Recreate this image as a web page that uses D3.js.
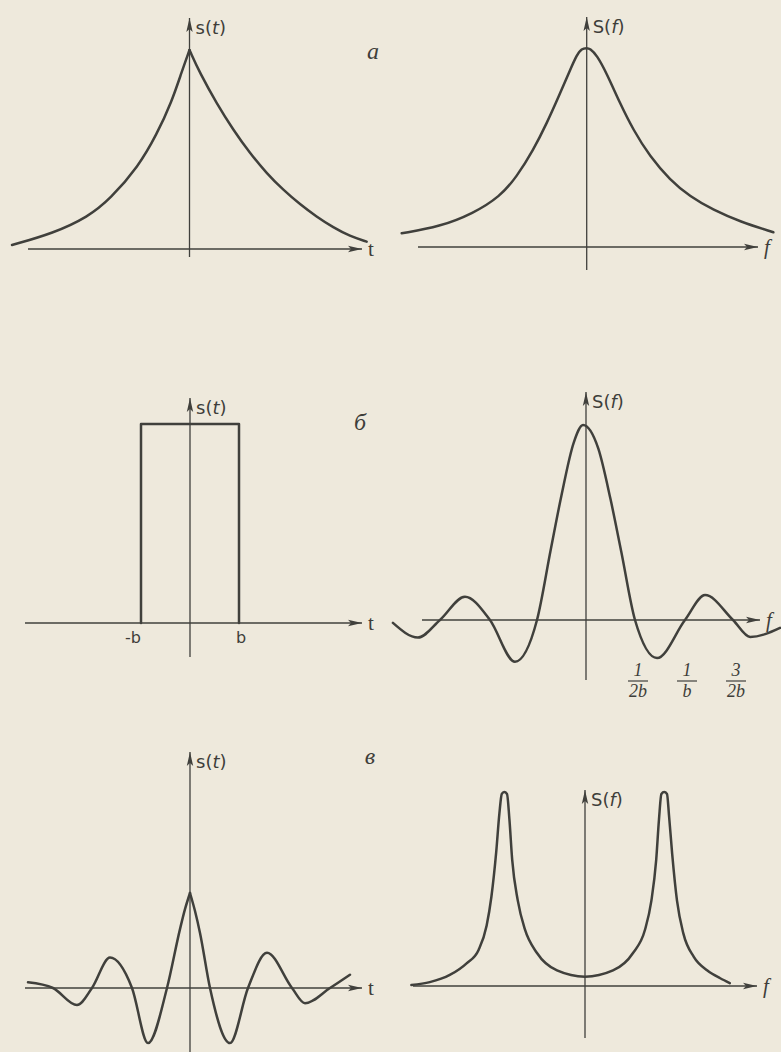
<!DOCTYPE html>
<html>
<head>
<meta charset="utf-8">
<script src="https://cdn.jsdelivr.net/npm/d3@7"></script>
<style>
  body { margin: 0; background: #eee9dc; }
  svg { display: block; }
  text { fill: #3e3e3a; }
</style>
</head>
<body>
<div id="fig"></div>
<script>
// --- values (arbitrary units) ---

// а: two-sided exponential and its spectrum
var expT_left  = [-1.0, -0.767, -0.570, -0.448, -0.288, -0.185, -0.100, -0.044, 0];
var expS_left  = [0.020, 0.079, 0.162, 0.250, 0.414, 0.575, 0.740, 0.890, 1];
var expT_right = [0, 0.059, 0.153, 0.247, 0.341, 0.435, 0.529, 0.623, 0.716, 0.810, 0.904, 0.998];
var expS_right = [1, 0.883, 0.732, 0.598, 0.481, 0.380, 0.296, 0.224, 0.162, 0.108, 0.064, 0.037];

var lorF = [-1.0, -0.793, -0.613, -0.469, -0.378, -0.289, -0.216, -0.144, -0.090, -0.054, -0.027, 0,
            0.018, 0.054, 0.108, 0.180, 0.252, 0.342, 0.450, 0.558, 0.684, 0.829, 1.009];
var lorS = [0.069, 0.102, 0.169, 0.253, 0.353, 0.487, 0.621, 0.772, 0.889, 0.965, 0.998, 1.0,
            0.998, 0.965, 0.873, 0.722, 0.588, 0.454, 0.337, 0.253, 0.186, 0.127, 0.074];

// б: rectangular pulse and its spectrum
var rectT = [-1, -1, 1, 1];
var rectS = [0, 1, 1, 0];
var rectTicks = [-1, 1];
var rectTickLabels = ["-b", "b"];

var sincF = [-3.94, -3.43, -2.98, -2.47, -1.96, -1.45, -1.0, -0.72, -0.5, -0.25, -0.06,
             0.25, 0.5, 0.72, 1.0, 1.45, 2.02, 2.43, 3.0, 3.35, 3.96];
var sincS = [-0.015, -0.09, 0, 0.119, 0, -0.214, 0, 0.36, 0.64, 0.91, 1.0,
             0.88, 0.62, 0.35, 0, -0.195, 0, 0.128, 0, -0.087, -0.04];
var sincTicks = [1, 2, 3];
var sincTickNum = ["1", "1", "3"];
var sincTickDen = ["2b", "b", "2b"];

// в: damped oscillation and its spectrum
var oscT_left  = [-8.1, -6.85, -5.65, -4.9, -4.0, -2.9, -2.1, -1.15, -0.5, -0.25, 0];
var oscS_left  = [0.06, 0, -0.18, 0, 0.32, 0, -0.58, 0, 0.62, 0.83, 1];
var oscT_right = [0, 0.25, 0.5, 1.0, 2.0, 2.9, 3.85, 5.1, 5.75, 7.0, 8.0];
var oscS_right = [1, 0.81, 0.58, 0, -0.58, 0, 0.37, 0, -0.16, 0, 0.14];

var twoF = [-2.17, -1.94, -1.69, -1.48, -1.33, -1.23, -1.17, -1.11, -1.07, -1.04, -1.01, -0.975,
            -0.945, -0.91, -0.84, -0.75, -0.60, -0.35, 0, 0.35, 0.60, 0.75, 0.83, 0.89, 0.925,
            0.955, 0.99, 1.025, 1.05, 1.09, 1.15, 1.23, 1.36, 1.53, 1.69, 1.81];
var twoS = [0.005, 0.02, 0.057, 0.117, 0.186, 0.31, 0.46, 0.69, 0.89, 0.99, 1.0, 0.99,
            0.86, 0.65, 0.44, 0.29, 0.17, 0.08, 0.048, 0.08, 0.17, 0.29, 0.44, 0.65, 0.86,
            0.99, 1.0, 0.99, 0.88, 0.68, 0.44, 0.27, 0.15, 0.08, 0.04, 0.015];

function zip(xs, ys) { return xs.map(function(x, i) { return {x: x, y: ys[i]}; }); }

var W = 781, H = 1052;
var ink = "#40403c";

var svg = d3.select("#fig").append("svg")
    .attr("width", W)
    .attr("height", H);

svg.append("rect").attr("width", W).attr("height", H).attr("fill", "#eee9dc");

var defs = svg.append("defs");
defs.append("marker")
    .attr("id", "arrow")
    .attr("viewBox", "-14 -4 15 8")
    .attr("refX", 0).attr("refY", 0)
    .attr("markerWidth", 15).attr("markerHeight", 8)
    .attr("markerUnits", "userSpaceOnUse")
    .attr("orient", "auto")
    .append("path")
    .attr("d", "M0,0 L-14,-3.2 L-11,0 L-14,3.2 Z")
    .attr("fill", ink);

// each panel: scales + where its axes start/stop (pixels)
var panels = [
  { xd: [-1, 1], xr: [12, 367],   yr: [249, 50],  hx: [28, 362],  vy: [257, 18],
    series: [zip(expT_left, expS_left), zip(expT_right, expS_right)], curve: d3.curveBasis,
    xl: "t", yl: "s(t)", tag: "а", tagPos: [373, 59] },
  { xd: [-1, 1], xr: [401.7, 771.7], yr: [247, 48], hx: [418, 758], vy: [270, 17],
    series: [zip(lorF, lorS)], curve: d3.curveBasis, xl: "f", yl: "S(f)" },
  { xd: [-1, 1], xr: [141, 239],  yr: [623, 424], hx: [25, 362],  vy: [657, 398],
    series: [zip(rectT, rectS)], curve: d3.curveLinear, xl: "t", yl: "s(t)", tag: "б", tagPos: [360, 430] },
  { xd: [-1, 1], xr: [537, 635],  yr: [620, 425], hx: [422, 760], vy: [680, 392],
    series: [zip(sincF, sincS)], curve: d3.curveMonotoneX, xl: "f", yl: "S(f)" },
  { xd: [-1, 1], xr: [170, 210],  yr: [988, 893], hx: [25, 362],  vy: [1052, 752],
    series: [zip(oscT_left, oscS_left), zip(oscT_right, oscS_right)], curve: d3.curveMonotoneX,
    xl: "t", yl: "s(t)", tag: "в", tagPos: [370, 764] },
  { xd: [-1, 1], xr: [505, 665],  yr: [986, 792], hx: [413, 757], vy: [1038, 790],
    series: [zip(twoF, twoS)], curve: d3.curveMonotoneX, xl: "f", yl: "S(f)" }
];

panels.forEach(function(p, i) {
  var x = d3.scaleLinear().domain(p.xd).range(p.xr);
  var y = d3.scaleLinear().domain([0, 1]).range(p.yr);
  p.x = x; p.y = y;
  var g = svg.append("g").attr("class", "panel-" + i);

  // axes
  g.append("line")
      .attr("x1", p.hx[0]).attr("x2", p.hx[1])
      .attr("y1", y(0)).attr("y2", y(0))
      .attr("stroke", ink).attr("stroke-width", 1.3)
      .attr("marker-end", "url(#arrow)");
  g.append("line")
      .attr("x1", x(0)).attr("x2", x(0))
      .attr("y1", p.vy[0]).attr("y2", p.vy[1])
      .attr("stroke", ink).attr("stroke-width", 1.3)
      .attr("marker-end", "url(#arrow)");

  // curves
  var line = d3.line()
      .x(function(d) { return x(d.x); })
      .y(function(d) { return y(d.y); })
      .curve(p.curve);

  p.series.forEach(function(s) {
    g.append("path")
        .datum(s)
        .attr("d", line)
        .attr("fill", "none")
        .attr("stroke", ink)
        .attr("stroke-width", 2.5)
        .attr("stroke-linejoin", "round")
        .attr("stroke-linecap", "round");
  });

  // axis names
  g.append("text")
      .attr("x", p.hx[1] + 6).attr("y", y(0) + 7)
      .attr("font-family", "Liberation Serif")
      .attr("font-style", p.xl == "f" ? "italic" : "normal")
      .attr("font-size", 21)
      .text(p.xl);

  var yl = g.append("text")
      .attr("x", x(0) + 6).attr("y", p.vy[1] + 16)
      .attr("font-family", "DejaVu Sans")
      .attr("font-size", 18);
  yl.append("tspan").text(p.yl.slice(0, 2));
  yl.append("tspan").attr("font-style", "italic").text(p.yl.slice(2, 3));
  yl.append("tspan").text(")");

  if (p.tag) {
    g.append("text")
        .attr("x", p.tagPos[0]).attr("y", p.tagPos[1])
        .attr("text-anchor", "middle")
        .attr("font-family", "Liberation Serif")
        .attr("font-style", "italic")
        .attr("font-size", 24)
        .text(p.tag);
  }
});

// tick labels for б
var pb = panels[2];
svg.append("g").selectAll("text")
    .data(rectTicks)
    .enter().append("text")
    .attr("x", function(d) { return pb.x(d) + (d < 0 ? -8 : 2); })
    .attr("y", pb.y(0) + 20)
    .attr("text-anchor", "middle")
    .attr("font-family", "DejaVu Sans")
    .attr("font-size", 16)
    .text(function(d, i) { return rectTickLabels[i]; });

var ps = panels[3];
var fr = svg.append("g").selectAll("g")
    .data(sincTicks)
    .enter().append("g")
    .attr("transform", function(d) { return "translate(" + (ps.x(d) + 3) + "," + (ps.y(0) + 56) + ")"; });
fr.append("text")
    .attr("text-anchor", "middle")
    .attr("font-family", "Liberation Serif")
    .attr("font-style", "italic")
    .attr("font-size", 18)
    .text(function(d, i) { return sincTickNum[i]; });
fr.append("line")
    .attr("x1", -10).attr("x2", 10)
    .attr("y1", 5).attr("y2", 5)
    .attr("stroke", ink).attr("stroke-width", 1.2);
fr.append("text")
    .attr("y", 21)
    .attr("text-anchor", "middle")
    .attr("font-family", "Liberation Serif")
    .attr("font-style", "italic")
    .attr("font-size", 18)
    .text(function(d, i) { return sincTickDen[i]; });
</script>
</body>
</html>
